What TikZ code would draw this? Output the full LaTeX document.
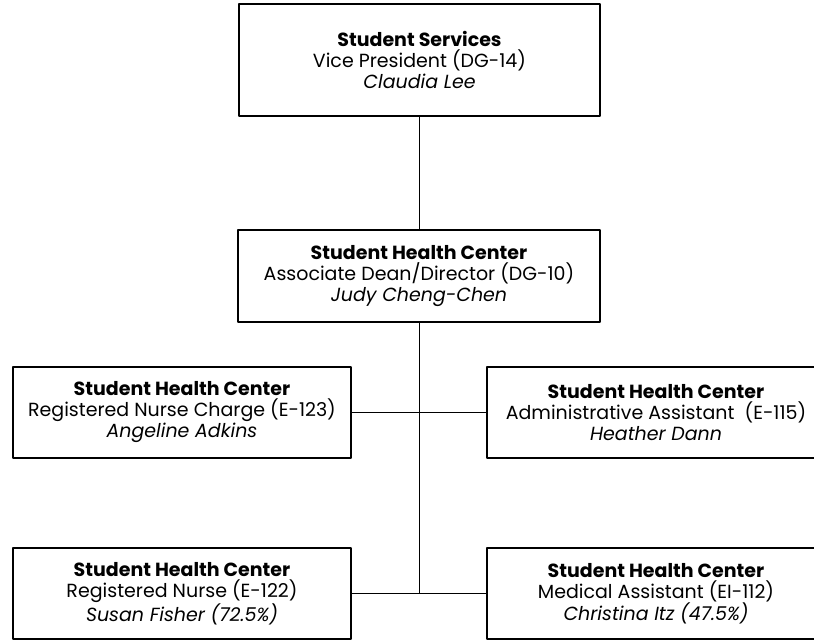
\documentclass[tikz,border=0pt]{standalone}
\usepackage{fontspec}
\setmainfont{Poppins}
\usetikzlibrary{positioning}
\begin{document}
\begin{tikzpicture}[x=1pt, y=-1pt, line join=round,
    post/.style={draw, line width=1.2pt, rectangle, align=center,
      minimum width=338pt, minimum height=91pt, inner sep=0pt,
      font=\fontsize{19}{21}\selectfont},
    link/.style={line width=1pt}]
  \def\xl{182} \def\xm{419} \def\xr{656}
  \useasboundingbox (0,0) rectangle (814,640);
  \clip (0,0) rectangle (814,640);
  % top levels
  \node[post, minimum width=361pt, minimum height=112pt] (vp) at (419.5,60)
    {\textbf{Student Services}\\Vice President (DG-14)\\\textit{Claudia Lee}};
  \node[post, minimum width=362pt, minimum height=92pt] (shc) at (\xm,276)
    {\textbf{Student Health Center}\\Associate Dean/Director (DG-10)\\\textit{Judy Cheng-Chen}};
  % staff
  \node[post] (rnc) at (\xl,412.5)
    {\textbf{Student Health Center}\\Registered Nurse Charge (E-123)\\\textit{Angeline Adkins}};
  \node[post] (aa) at (\xr,412.5)
    {\textbf{Student Health Center}\\Administrative Assistant\ \ (E-115)\\\textit{Heather Dann}};
  \node[post] (rn) at (\xl,593.5)
    {\textbf{Student Health Center}\\Registered Nurse (E-122)\\\textit{Susan Fisher (72.5\%)}};
  \node[post] (ma) at (\xr,593.5)
    {\textbf{Student Health Center}\\Medical Assistant (EI-112)\\\textit{Christina Itz (47.5\%)}};
  % lines
  \draw[link] (vp.south -| shc.north) -- (shc.north);
  \draw[link] (shc.south) -- (shc.south |- rn.east);
  \draw[link] (rnc.east) -- (aa.west);
  \draw[link] (rn.east) -- (ma.west);
\end{tikzpicture}
\end{document}
